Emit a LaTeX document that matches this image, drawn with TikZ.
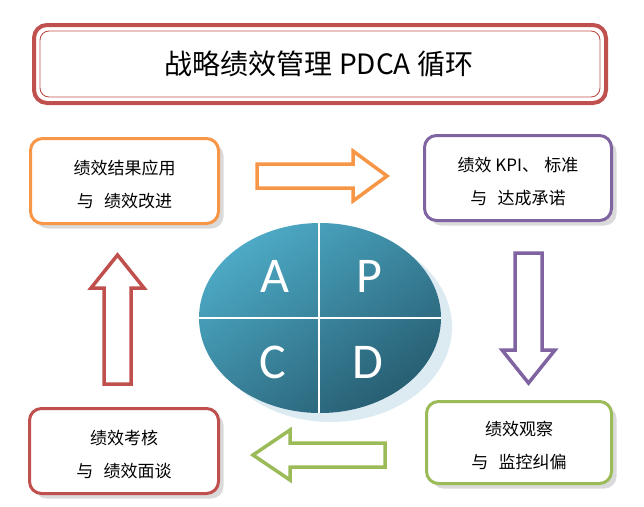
\documentclass[tikz,border=0pt]{standalone}
\usepackage{fontspec}
\setmainfont{Noto Sans CJK SC}
\newfontfamily\latinf{Carlito}
\usetikzlibrary{shadows}
\definecolor{cOrange}{HTML}{F79646}
\definecolor{cPurple}{HTML}{8064A2}
\definecolor{cRed}{HTML}{C0504D}
\definecolor{cGreen}{HTML}{9BBB59}
\definecolor{cShadow}{HTML}{DADADA}
\definecolor{eLight}{HTML}{4DAAC6}
\definecolor{eDark}{HTML}{275E72}
\definecolor{eShadow}{HTML}{DCEBF2}
\newcommand{\upstrut}{\rule{0pt}{21pt}}
\tikzset{
  stagebox/.style={draw, line width=3pt, rounded corners=12pt, fill=white,
    align=center, font=\fontsize{17}{33}\selectfont,
    drop shadow={shadow xshift=5pt, shadow yshift=-5pt, fill=cShadow, opacity=1}},
  blockarrow/.style={line width=3.5pt, fill=white, line join=miter},
  pdcaletter/.style={text=white, font=\latinf\fontsize{50}{50}\selectfont, inner sep=0pt},
}
\begin{document}
\begin{tikzpicture}[x=1pt,y=-1pt]
\useasboundingbox (0,0) rectangle (644,506);

% title
\draw[cRed, line width=4pt, rounded corners=13pt, fill=white] (34,25) rectangle (606,103);
\draw[cRed, line width=0.9pt, rounded corners=9pt] (40,31) rectangle (600,97);
\node[font=\fontsize{28}{28}\selectfont, inner sep=0pt] (title) at (319,64) {战略绩效管理 PDCA 循环};

% stage boxes
\node[stagebox, draw=cOrange, minimum width=188pt, minimum height=85pt] (act) at (124.5,181)
  {\upstrut 绩效结果应用\\与\hspace{0.6em}绩效改进};
\node[stagebox, draw=cPurple, minimum width=187pt, minimum height=85pt] (plan) at (518,178)
  {\upstrut 绩效 KPI、\hspace{0.3em}标准\\与\hspace{0.6em}达成承诺};
\node[stagebox, draw=cRed, minimum width=189pt, minimum height=85pt] (check) at (124,451)
  {\upstrut 绩效考核\\与\hspace{0.6em}绩效面谈};
\node[stagebox, draw=cGreen, minimum width=185pt, minimum height=82pt] (do) at (519,442.5)
  {\upstrut 绩效观察\\与\hspace{0.6em}监控纠偏};

% central ellipse
\fill[eShadow] (331,327) ellipse [x radius=121pt, y radius=95pt];
\shade[top color=eLight, bottom color=eDark, shading angle=35] (320,318) ellipse [x radius=121pt, y radius=95pt];
\begin{scope}
  \clip (320,318) ellipse [x radius=121pt, y radius=95pt];
  \draw[white, line width=1.6pt] (319,200) -- (319,430);
  \draw[white, line width=1.6pt] (180,318) -- (460,318);
\end{scope}
\node[pdcaletter] (la) at (275,276) {A};
\node[pdcaletter] (lp) at (369,276) {P};
\node[pdcaletter] (lc) at (273,362) {C};
\node[pdcaletter] (ld) at (368,362) {D};

% block arrows
\draw[blockarrow, draw=cOrange] (257,164) -- (353,164) -- (353,151) -- (387,176) -- (353,201) -- (353,188) -- (257,188) -- cycle;
\draw[blockarrow, draw=cPurple] (515,253) -- (542,253) -- (542,350) -- (555,350) -- (528.5,383) -- (502,350) -- (515,350) -- cycle;
\draw[blockarrow, draw=cGreen] (385,443) -- (290,443) -- (290,430) -- (253,455) -- (290,480) -- (290,467) -- (385,467) -- cycle;
\draw[blockarrow, draw=cRed] (104,384) -- (104,288) -- (91,288) -- (117.5,255) -- (144,288) -- (131,288) -- (131,384) -- cycle;
\end{tikzpicture}
\end{document}
